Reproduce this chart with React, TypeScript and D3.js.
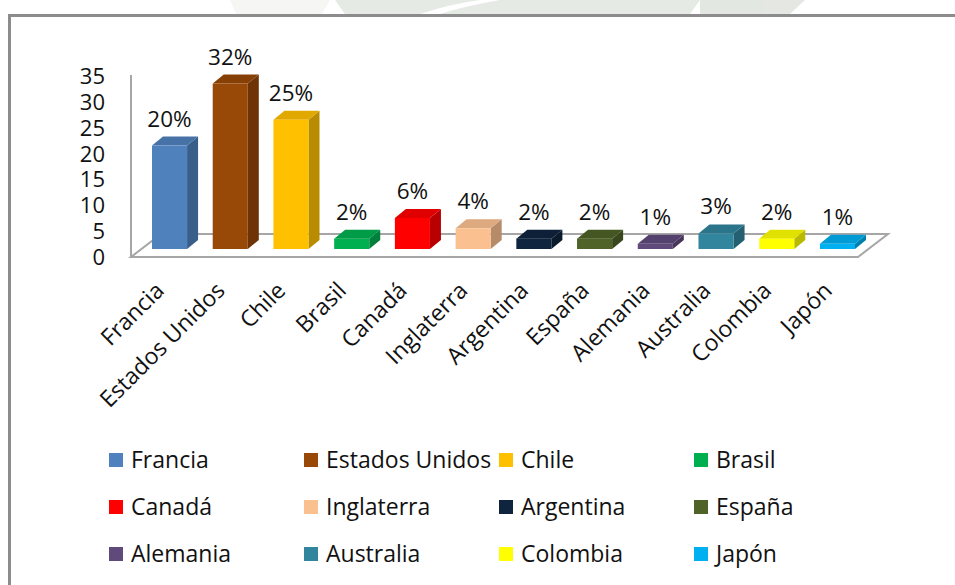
import React from "react";
import * as d3 from "d3";

const categories = ["Francia", "Estados Unidos", "Chile", "Brasil", "Canadá", "Inglaterra", "Argentina", "España", "Alemania", "Australia", "Colombia", "Japón"];
const values = [20, 32, 25, 2, 6, 4, 2, 2, 1, 3, 2, 1];
const labels = ["20%", "32%", "25%", "2%", "6%", "4%", "2%", "2%", "1%", "3%", "2%", "1%"];
const colors = ["#4F81BD", "#984807", "#FFC000", "#00B050", "#FF0000", "#FAC090", "#0F243E", "#4F6228", "#604A7B", "#31859C", "#FFFF00", "#00B0F0"];
const yTicks = [0, 5, 10, 15, 20, 25, 30, 35];

const FONT = "'Open Sans', 'Noto Sans', sans-serif";

export default function App() {
  const x = d3.scaleBand<string>().domain(categories).range([152, 855]).paddingInner(0.4224).paddingOuter(0);
  const yBar = d3.scaleLinear().domain([0, 35]).range([249, 68]);
  const yAxis = d3.scaleLinear().domain([0, 35]).range([257, 76]);
  const bw = x.bandwidth();
  const dx = 11, dy = -9;
  const fdx = 30, fdy = -23;
  const floorL = 131, floorR = 858, floorY = 257;

  const darker = (c: string, k: number) => d3.color(c)!.darker(k).formatHex();

  return (
    <svg width={955} height={585} style={{ position: "absolute", left: 0, top: 0, background: "#fff" }} fontFamily={FONT}>
      {/* faint watermark above frame */}
      <g opacity={0.5}>
        <path d="M230,0 L330,0 L322,14 L236,14 Z" fill="#eef0ec" />
        <path d="M335,0 L700,0 L690,14 L345,14 Z" fill="#cfd6cc" />
        <path d="M420,14 Q450,4 480,0 L500,0 Q465,6 440,14 Z" fill="#ffffff" />
        <path d="M700,0 L805,0 L790,14 L700,14 Z" fill="#c9d0c6" />
      </g>
      {/* frame */}
      <path d="M9.5,590 L9.5,15.5 L960,15.5" fill="none" stroke="#8c8c8c" strokeWidth={3} />

      {/* floor */}
      <path
        d={`M${floorL},${floorY} L${floorR},${floorY} L${floorR + fdx},${floorY + fdy} L${floorL + fdx},${floorY + fdy} Z`}
        fill="none"
        stroke="#a6a6a6"
        strokeWidth={2}
      />
      {/* vertical axis line */}
      <line x1={floorL} x2={floorL} y1={yAxis(35) - 1} y2={floorY} stroke="#a6a6a6" strokeWidth={2} />

      {/* y tick labels */}
      {yTicks.map((t) => (
        <text key={t} x={105} y={yAxis(t) + 8} textAnchor="end" fontSize={22} fill="#111">
          {t}
        </text>
      ))}

      {/* bars */}
      {categories.map((c, i) => {
        const x0 = x(c)!;
        const base = yBar(0);
        const top = yBar(values[i]);
        const col = colors[i];
        return (
          <g key={c}>
            <polygon
              points={`${x0 + bw},${top} ${x0 + bw + dx},${top + dy} ${x0 + bw + dx},${base + dy} ${x0 + bw},${base}`}
              fill={darker(col, 0.9)}
            />
            <polygon
              points={`${x0},${top} ${x0 + dx},${top + dy} ${x0 + bw + dx},${top + dy} ${x0 + bw},${top}`}
              fill={darker(col, 0.35)}
            />
            <rect x={x0} y={top} width={bw} height={base - top} fill={col} />
            <text x={x0 + bw / 2} y={top - 19} textAnchor="middle" fontSize={22.5} fill="#111">
              {labels[i]}
            </text>
          </g>
        );
      })}

      {/* category labels */}
      {categories.map((c) => {
        const cx = x(c)! + bw / 2 - 4;
        const cy = 292;
        return (
          <text key={c} x={cx} y={cy} textAnchor="end" fontSize={23} fill="#111" transform={`rotate(-45 ${cx} ${cy})`}>
            {c}
          </text>
        );
      })}

      {/* legend */}
      {categories.map((c, i) => {
        const col = i % 4;
        const row = Math.floor(i / 4);
        const lx = 109 + col * 195;
        const ly = [460, 507, 554][row];
        return (
          <g key={c}>
            <rect x={lx} y={ly - 7} width={14} height={14} fill={colors[i]} />
            <text x={lx + 22} y={ly + 8} fontSize={23} fill="#111">
              {c}
            </text>
          </g>
        );
      })}
    </svg>
  );
}
